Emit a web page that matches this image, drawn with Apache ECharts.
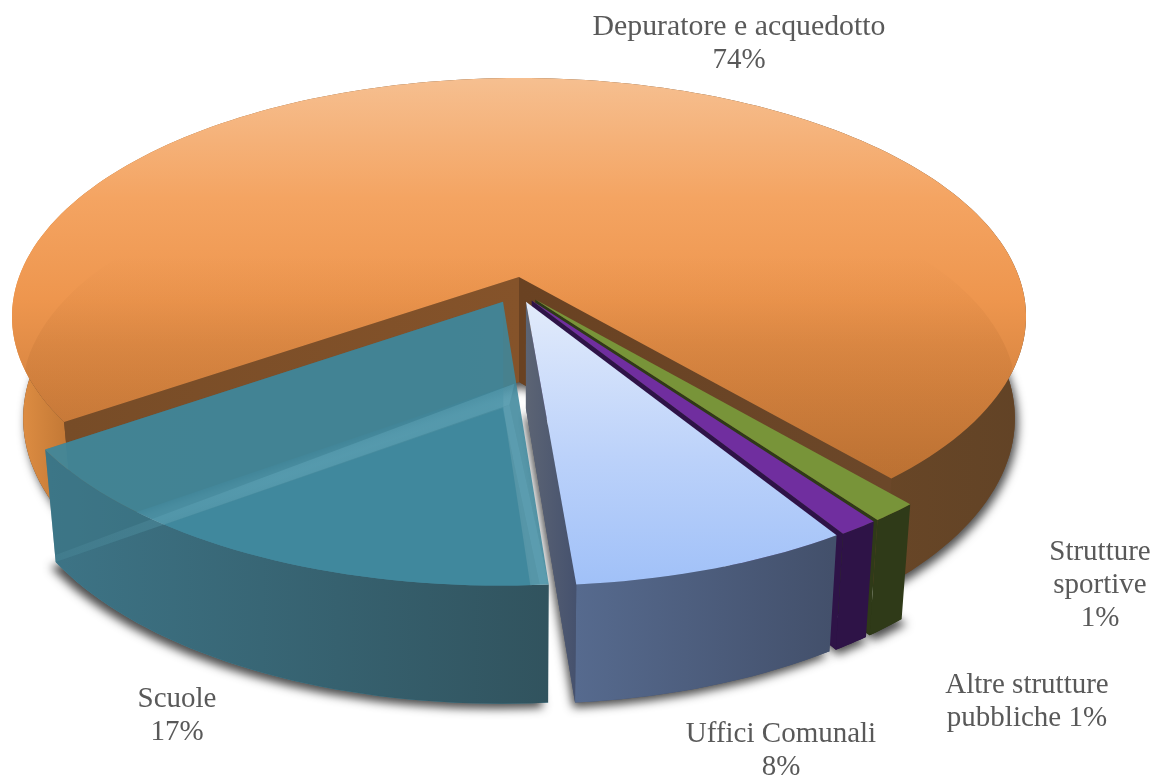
<!DOCTYPE html>
<html><head><meta charset="utf-8">
<style>html,body{margin:0;padding:0;background:#fff}#c{width:1165px;height:778px}</style>
<script src="https://cdn.jsdelivr.net/npm/echarts@6/dist/echarts.min.js"></script>
</head><body><div id="c"></div>
<script>
const categories = ['Depuratore e acquedotto','Scuole','Uffici Comunali','Altre strutture pubbliche','Strutture sportive'];
const shares = [73.3, 16.72, 7.6, 1.1, 1.28];   // slice sizes as drawn in the picture
const percentLabels = ['74%','17%','8%','1%','1%']; // printed labels

// Layout / projection (perspective view of the disc), kept apart from the data
const view = {cx:519, cy:277, A:500, B:232, p:0.166, k:0.978, h0:105, hs:0.0426, startDeg:40.6};
const explode = [[0,0],[-0.0314,0.1045],[0.0137,0.1045],[0.025,0.1],[0.032,0.095]];
const radius = [1,0.985,0.985,0.985,0.985];
const labelLines = [
  ['Depuratore e acquedotto'],['Scuole'],['Uffici Comunali'],['Altre strutture','pubbliche'],['Strutture','sportive']
];
const labelPos = [[739,27],[177,699],[781,734],[1027,685],[1100,552]];
const G = (x,y,x2,y2,stops)=>new echarts.graphic.LinearGradient(x,y,x2,y2,stops.map(c=>({offset:c[0],color:c[1]})),true);
const looks = [
 {top:G(0,78,0,480,[[0,'#f6bf90'],[0.3,'#f4a462'],[0.55,'#ee964e'],[0.8,'#d5833f'],[1,'#c27636']]),
  side:G(12,0,1027,0,[[0,'#e39145'],[0.07,'#b97131'],[0.4,'#7a4f28'],[1,'#624326']]),
  wallA:G(68,0,519,0,[[0,'#774c27'],[1,'#85532a']]), wallB:G(519,0,886,0,[[0,'#6a4222'],[1,'#6b4729']]), floor:'#6a4729', alpha:1, shX:3},
 {top:'#3f879c', side:G(50,0,549,0,[[0,'#3d7486'],[1,'#31535e']]), wallA:'rgba(60,120,135,0.5)', floor:'#4a8ba0', alpha:0.88, shX:-5},
 {top:G(0,302,0,582,[[0,'#e2ebfb'],[0.55,'#bcd2fa'],[1,'#a1c1f8']]), side:G(577,0,832,0,[[0,'#566a8e'],[1,'#43506b']]),
  wallA:G(526,0,575,0,[[0,'#5c6474'],[1,'#46526e']]), floor:'#46526e', alpha:1, shX:-2},
 {top:'#702e9f', side:'#2e1347', wallA:'#2e1347', floor:'#2e1347', alpha:1, shX:2},
 {top:'#789439', side:'#2f3a18', wallA:'#2f3a18', floor:'#2f3a18', alpha:1, shX:5}
];

const total = shares.reduce((a,b)=>a+b,0);
const rad = d=>d*Math.PI/180;
const spans = []; let acc = view.startDeg;
shares.forEach(s=>{const sw=s/total*360; spans.push([acc,acc+sw]); acc+=sw;});

function proj(u,v){const w=1-view.p*v; return [view.cx+view.A*u/w, view.cy+view.B*v/w];}
function drop(P,adj){return [view.cx+(P[0]-view.cx)*view.k, P[1]+view.h0+(P[1]-view.cy)*view.hs+(adj||0)];}
function arc(i,r){
  const [a,b]=spans[i],[ou,ov]=explode[i],n=Math.max(6,Math.round((b-a)/1.5)),pts=[];
  for(let j=0;j<=n;j++){const t=rad(a+(b-a)*j/n); pts.push(proj(ou+r*Math.sin(t),ov+r*Math.cos(t)));}
  return pts;
}
const poly=(points,style)=>({type:'polygon',shape:{points},style});

function renderItem(params,api){
  const i=api.value(0), L=looks[i];
  const tip=proj(explode[i][0],explode[i][1]), rim=arc(i,radius[i]);
  const tipB=drop(tip), rimB=rim.map(P=>drop(P)), rimS=rim.map(P=>drop(P,i===0?-5:0));
  const e=rim.length-1, kids=[];
  // soft contact shadow + floor
  kids.push(poly([tipB].concat(rimS),{fill:L.floor,shadowColor:'rgba(0,0,0,0.7)',shadowBlur:10,shadowOffsetX:L.shX,shadowOffsetY:5}));
  // outer side
  kids.push(poly(rim.concat(rimS.slice().reverse()),{fill:L.side}));
  // cut walls
  if(i===0){
    kids.push(poly([tip,rim[0],rimB[0],tipB],{fill:L.wallB}));
    kids.push(poly([tip,rim[e],rimB[e],tipB],{fill:L.wallA}));
  } else kids.push(poly([tip,rim[0],rimB[0],tipB],{fill:L.wallA}));
  // top face
  kids.push(poly([tip].concat(rim),{fill:L.top,opacity:L.alpha}));
  if(i===0){
    // bevel crescent on the disc
    const [a,b]=spans[0],n=150,pts=[tip];
    for(let j=0;j<=n;j++){
      const t=rad(a+(b-a)*j/n),c=Math.cos(t),r=c<0.375?1-0.377*(0.375-c):1;
      pts.push(proj(r*Math.sin(t),r*c));
    }
    kids.push(poly(pts,{fill:G(0,255,0,345,[[0,'rgba(90,40,0,0)'],[1,'rgba(90,40,0,0.07)']])}));
  }
  if(i===1){
    // glassy highlights of the translucent slice
    const a0=rimB[0];
    kids.push(poly([[a0[0],a0[1]-7],[tipB[0]+11,tipB[1]-24],[tipB[0]+6,tipB[1]-3],[a0[0],a0[1]]],
      {fill:G(a0[0],0,tipB[0],0,[[0,'rgba(130,200,220,0.08)'],[0.5,'rgba(130,200,220,0.2)'],[1,'rgba(130,200,220,0.2)']])}));
    const d=[tipB[0]+6,tipB[1]-3], f=rim[e];
    kids.push(poly([d,[d[0]-7,d[1]+3],[f[0]-9,f[1]],f],{fill:'rgba(130,200,220,0.14)'}));
  }
  return {type:'group',children:kids};
}

function renderLabel(params,api){
  const i=api.value(0), P=labelPos[i], lines=labelLines[i].slice();
  if(i===3) lines[1]+=' '+percentLabels[i]; else lines.push(percentLabels[i]);
  return {type:'group',children:lines.map((t,j)=>({type:'text',style:{
    text:t,x:P[0],y:P[1]+j*33.3,align:'center',verticalAlign:'middle',
    fill:'#595959',font:(i===0&&j===0?'29.8':'29')+'px "Liberation Serif"'}}))};
}

const chart=echarts.init(document.getElementById('c'),null,{renderer:'canvas'});
chart.setOption({
  animation:false,backgroundColor:'#fff',
  series:[
    {type:'custom',coordinateSystem:'none',silent:true,renderItem,data:[[0],[4],[3],[2],[1]],z:1},
    {type:'custom',coordinateSystem:'none',silent:true,renderItem:renderLabel,data:[[0],[1],[2],[3],[4]],z:2}
  ]
});
</script></body></html>
